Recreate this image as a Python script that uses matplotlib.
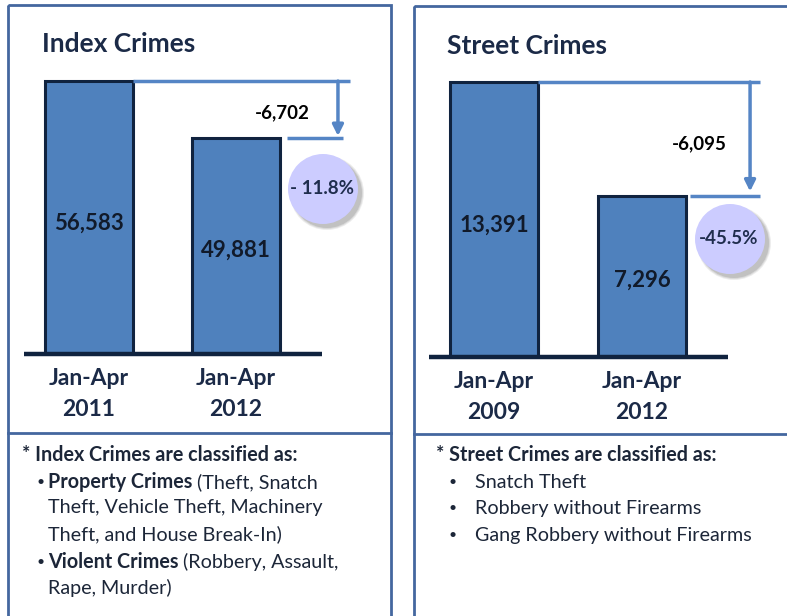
import matplotlib
matplotlib.use('Agg')
import matplotlib.pyplot as plt
from matplotlib.patches import Rectangle, Circle

plt.rcParams['font.family'] = ['Lato', 'DejaVu Sans']

# data
index_periods = ['Jan-Apr\n2011', 'Jan-Apr\n2012']
index_values = [56583, 49881]
index_pct = '- 11.8%'
street_periods = ['Jan-Apr\n2009', 'Jan-Apr\n2012']
street_values = [13391, 7296]
street_pct = '-45.5%'

W, H = 787, 616
NAVY = '#1b2a47'
BAR = '#4f81bd'
EDGE = '#10233f'
LINE = '#5585c5'
BOX = '#44679f'

fig = plt.figure(figsize=(W / 100, H / 100), dpi=100)


def px_axes(x0, y0, x1, y1):
    ax = fig.add_axes([x0 / W, 1 - y1 / H, (x1 - x0) / W, (y1 - y0) / H])
    ax.patch.set_visible(False)
    return ax


def panel(ax, periods, values, xlim, ylim, base_x, bracket, label_xy):
    x = [0, 1]
    ax.set_xlim(*xlim)
    ax.set_ylim(*ylim)
    b0 = ylim[0]
    ax.bar(x, [v - b0 for v in values], bottom=b0, width=0.6, color=BAR,
           edgecolor=EDGE, linewidth=2.2, zorder=2)
    ax.hlines(b0, base_x[0], base_x[1], color=EDGE, linewidth=3.2, zorder=3, clip_on=False)
    for xi, v in zip(x, values):
        mid = b0 + (v - b0) * 0.48
        ax.text(xi, mid, f'{v:,}', ha='center', va='center', fontsize=16,
                fontweight='bold', color='#111a2a', zorder=4)
    ax.set_xticks(x, periods, fontsize=16.5, fontweight='bold', color=NAVY, linespacing=1.6)
    ax.tick_params(length=0, pad=10)
    for s in ax.spines.values():
        s.set_visible(False)
    ax.set_yticks([])
    # bracket showing the drop
    x_top_end, x_arrow, x_bot0, x_bot1 = bracket
    v1, v2 = values
    ax.plot([0.3, x_top_end], [v1, v1], color=LINE, lw=2.5, solid_capstyle='butt')
    ax.plot([x_bot0, x_bot1], [v2, v2], color=LINE, lw=2.5, solid_capstyle='butt')
    ax.annotate('', xy=(x_arrow, v2 + (v1 - v2) * 0.04), xytext=(x_arrow, v1),
                arrowprops=dict(arrowstyle='-|>', color=LINE, lw=2.5, mutation_scale=16,
                                shrinkA=0, shrinkB=0))
    ax.text(label_xy[0], label_xy[1], f'{v2 - v1:,}', ha='center', va='center',
            fontsize=13.5, fontweight='bold', color='black')


# left panel
ax1 = px_axes(10, 60, 385, 354)
panel(ax1, index_periods, index_values, (-0.537, 2.014), (24600, 59052),
      (-0.442, 1.585), (1.776, 1.694, 1.347, 1.728), (1.313, 52820))

# right panel
ax2 = px_axes(420, 60, 785, 357)
panel(ax2, street_periods, street_values, (-0.5, 1.966), (-1312, 14567),
      (-0.439, 1.58), (1.797, 1.73, 1.324, 1.797), (1.385, 10076))

# overlay in pixel coords for boxes, circles and notes
ov = fig.add_axes([0, 0, 1, 1])
ov.set_xlim(0, W)
ov.set_ylim(H, 0)
ov.axis('off')
ov.patch.set_visible(False)
ov.set_zorder(10)

# frames
ov.add_patch(Rectangle((8, 5), 383, 640, fill=False, edgecolor=BOX, lw=2))
ov.plot([8, 391], [433, 433], color=BOX, lw=2)
ov.add_patch(Rectangle((414, 6), 400, 640, fill=False, edgecolor=BOX, lw=2))
ov.plot([414, 787], [434, 434], color=BOX, lw=2)

# titles
ov.text(42, 44, 'Index Crimes', fontsize=19, fontweight='bold', color=NAVY, va='center')
ov.text(447, 46, 'Street Crimes', fontsize=19, fontweight='bold', color=NAVY, va='center')

# percent circles with soft shadow
for (cx, cy), txt in [((323, 189), index_pct), ((730, 239), street_pct)]:
    for r, a in [(37, 0.15), (36, 0.2), (35, 0.3)]:
        ov.add_patch(Circle((cx + 4, cy + 4), r, color='#8a8a8a', alpha=a, lw=0, zorder=5))
    ov.add_patch(Circle((cx, cy), 35, color='#ccccff', lw=0, zorder=6))
    ov.text(cx - 1, cy, txt, ha='center', va='center', fontsize=13.5, fontweight='bold',
            color='#1f2d4d', zorder=7)

# footnotes
TXT = '#1c2638'
fs = 14.2
ov.text(22, 455, '* Index Crimes are classified as:', fontsize=fs, fontweight='bold',
        color=TXT, va='center')
ov.text(36, 482, '\u2022', fontsize=10, color=TXT, va='center')
b1 = ov.text(48, 482, 'Property Crimes', fontsize=fs, fontweight='bold', color=TXT, va='center')
ov.annotate(' (Theft, Snatch', xy=(1, 0.5), xycoords=b1, fontsize=fs, color=TXT,
            va='center', ha='left')
ov.text(48, 508, 'Theft, Vehicle Theft, Machinery', fontsize=fs, color=TXT, va='center')
ov.text(48, 534, 'Theft, and House Break-In)', fontsize=fs, color=TXT, va='center')
ov.text(36, 562, '\u2022', fontsize=10, color=TXT, va='center')
b2 = ov.text(48, 562, 'Violent Crimes', fontsize=fs, fontweight='bold', color=TXT, va='center')
ov.annotate(' (Robbery, Assault,', xy=(1, 0.5), xycoords=b2, fontsize=fs, color=TXT,
            va='center', ha='left')
ov.text(48, 588, 'Rape, Murder)', fontsize=fs, color=TXT, va='center')

ov.text(436, 455, '* Street Crimes are classified as:', fontsize=fs, fontweight='bold',
        color=TXT, va='center')
for i, item in enumerate(['Snatch Theft', 'Robbery without Firearms', 'Gang Robbery without Firearms']):
    y = 482 + i * 26.5
    ov.text(448, y, '\u2022', fontsize=10, color=TXT, va='center')
    ov.text(475, y, item, fontsize=fs, color=TXT, va='center')

fig.savefig('out.png', dpi=100)
